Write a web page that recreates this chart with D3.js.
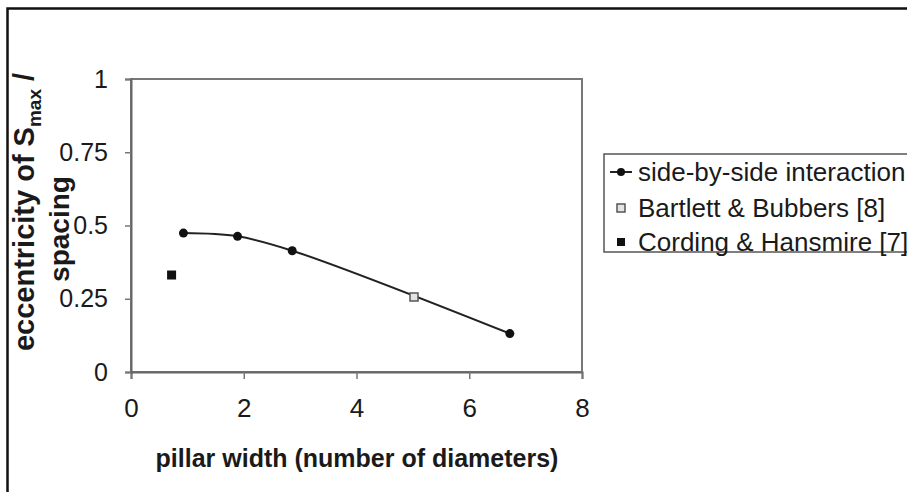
<!DOCTYPE html>
<html>
<head>
<meta charset="utf-8">
<script src="https://cdn.jsdelivr.net/npm/d3@7"></script>
<style>
	body { margin: 0; background: #fff; }
	text { font-family: "Liberation Sans", Arial, sans-serif; fill: #1a1a1a; }
</style>
</head>
<body>
<svg id="chart"></svg>
<script>
// series data
const sideBySideX = [0.93, 1.89, 2.86, 6.72];
const sideBySideY = [0.474, 0.463, 0.414, 0.131];
const bartlettX = [5.02];
const bartlettY = [0.256];
const cordingX = [0.72];
const cordingY = [0.331];
const xTicks = [0, 2, 4, 6, 8];
const yTicks = [0, 0.25, 0.5, 0.75, 1];
const legendLabels = ['side-by-side interaction', 'Bartlett & Bubbers [8]', 'Cording & Hansmire [7]'];

const config = {
	width: 907,
	height: 492,
	margin: { top: 79, right: 325, bottom: 120, left: 131 },
};

const svg = d3.select('#chart')
	.attr('width', config.width)
	.attr('height', config.height);

const innerW = config.width - config.margin.left - config.margin.right;
const innerH = config.height - config.margin.top - config.margin.bottom;

// outer frame (only left and top edges visible)
svg.append('path')
	.attr('d', `M7.5,${config.height} V8.5 H${config.width}`)
	.attr('fill', 'none')
	.attr('stroke', '#111')
	.attr('stroke-width', 2.5);

const chart = svg.append('g')
	.attr('transform', `translate(${config.margin.left},${config.margin.top})`);

const xScale = d3.scaleLinear().domain([0, 8]).range([0, innerW]);
const yScale = d3.scaleLinear().domain([0, 1]).range([innerH, 0]);

// plot box
chart.append('rect')
	.attr('width', innerW)
	.attr('height', innerH)
	.attr('fill', 'none')
	.attr('stroke', '#777')
	.attr('stroke-width', 2);

const xAxis = d3.axisBottom(xScale).tickValues(xTicks).tickSize(7).tickPadding(20).tickFormat(d3.format('d'));
const yAxis = d3.axisLeft(yScale).tickValues(yTicks).tickSize(6).tickPadding(17).tickFormat(d => String(d));

const xAxisG = chart.append('g')
	.attr('transform', `translate(0,${innerH})`)
	.call(xAxis);
const yAxisG = chart.append('g').call(yAxis);

[xAxisG, yAxisG].forEach(g => {
	g.select('.domain').attr('stroke', '#666').attr('stroke-width', 2);
	g.selectAll('.tick line').attr('stroke', '#777').attr('stroke-width', 1.5);
	g.selectAll('.tick text')
		.style('font-family', '"Liberation Sans", Arial, sans-serif')
		.attr('fill', '#1a1a1a');
});
xAxisG.selectAll('.tick text').attr('font-size', '26px');
yAxisG.selectAll('.tick text').attr('font-size', '25px');

// smoothed line (Excel-style)
const line = d3.line()
	.x(d => xScale(d[0]))
	.y(d => yScale(d[1]))
	.curve(d3.curveCatmullRom.alpha(0.5));

const sideData = sideBySideX.map((x, i) => [x, sideBySideY[i]]);

chart.append('path')
	.datum(sideData)
	.attr('d', line)
	.attr('fill', 'none')
	.attr('stroke', '#222')
	.attr('stroke-width', 2);

chart.selectAll('.side-dot')
	.data(sideData)
	.join('circle')
	.attr('class', 'side-dot')
	.attr('cx', d => xScale(d[0]))
	.attr('cy', d => yScale(d[1]))
	.attr('r', 4.5)
	.attr('fill', '#111');

chart.selectAll('.bartlett')
	.data(bartlettX.map((x, i) => [x, bartlettY[i]]))
	.join('rect')
	.attr('class', 'bartlett')
	.attr('x', d => xScale(d[0]) - 4)
	.attr('y', d => yScale(d[1]) - 4)
	.attr('width', 8)
	.attr('height', 8)
	.attr('fill', '#e4e4e4')
	.attr('stroke', '#555')
	.attr('stroke-width', 1.5);

chart.selectAll('.cording')
	.data(cordingX.map((x, i) => [x, cordingY[i]]))
	.join('rect')
	.attr('class', 'cording')
	.attr('x', d => xScale(d[0]) - 4.5)
	.attr('y', d => yScale(d[1]) - 4.5)
	.attr('width', 9)
	.attr('height', 9)
	.attr('fill', '#111');

// axis titles
svg.append('text')
	.attr('x', 357)
	.attr('y', 467)
	.attr('text-anchor', 'middle')
	.attr('font-size', '25px')
	.attr('font-weight', 'bold')
	.text('pillar width (number of diameters)');

const yTitle1 = svg.append('text')
	.attr('transform', 'translate(34,212) rotate(-90)')
	.attr('text-anchor', 'middle')
	.attr('font-size', '29px')
	.attr('font-weight', 'bold');
yTitle1.append('tspan').text('eccentricity of S');
yTitle1.append('tspan').attr('font-size', '19px').attr('dy', 7).text('max');
yTitle1.append('tspan').attr('dy', -7).text(' /');

svg.append('text')
	.attr('transform', 'translate(69,229) rotate(-90)')
	.attr('text-anchor', 'middle')
	.attr('font-size', '28px')
	.attr('font-weight', 'bold')
	.text('spacing');

// legend
const legend = svg.append('g').attr('transform', 'translate(604,154)');
legend.append('rect')
	.attr('width', 330)
	.attr('height', 98)
	.attr('fill', '#fff')
	.attr('stroke', '#555')
	.attr('stroke-width', 1.5);

const legendRows = [18, 54, 88];
legend.selectAll('.leg-text')
	.data(legendLabels)
	.join('text')
	.attr('class', 'leg-text')
	.attr('x', 34)
	.attr('y', (d, i) => legendRows[i])
	.attr('dy', '0.35em')
	.attr('font-size', '26px')
	.text(d => d);

legend.append('line')
	.attr('x1', 6).attr('x2', 28)
	.attr('y1', legendRows[0]).attr('y2', legendRows[0])
	.attr('stroke', '#222').attr('stroke-width', 2);
legend.append('circle')
	.attr('cx', 17).attr('cy', legendRows[0]).attr('r', 4).attr('fill', '#111');
legend.append('rect')
	.attr('x', 13).attr('y', legendRows[1] - 4).attr('width', 8).attr('height', 8)
	.attr('fill', '#e4e4e4').attr('stroke', '#555').attr('stroke-width', 1.5);
legend.append('rect')
	.attr('x', 13).attr('y', legendRows[2] - 4).attr('width', 8).attr('height', 8)
	.attr('fill', '#111');
</script>
</body>
</html>
